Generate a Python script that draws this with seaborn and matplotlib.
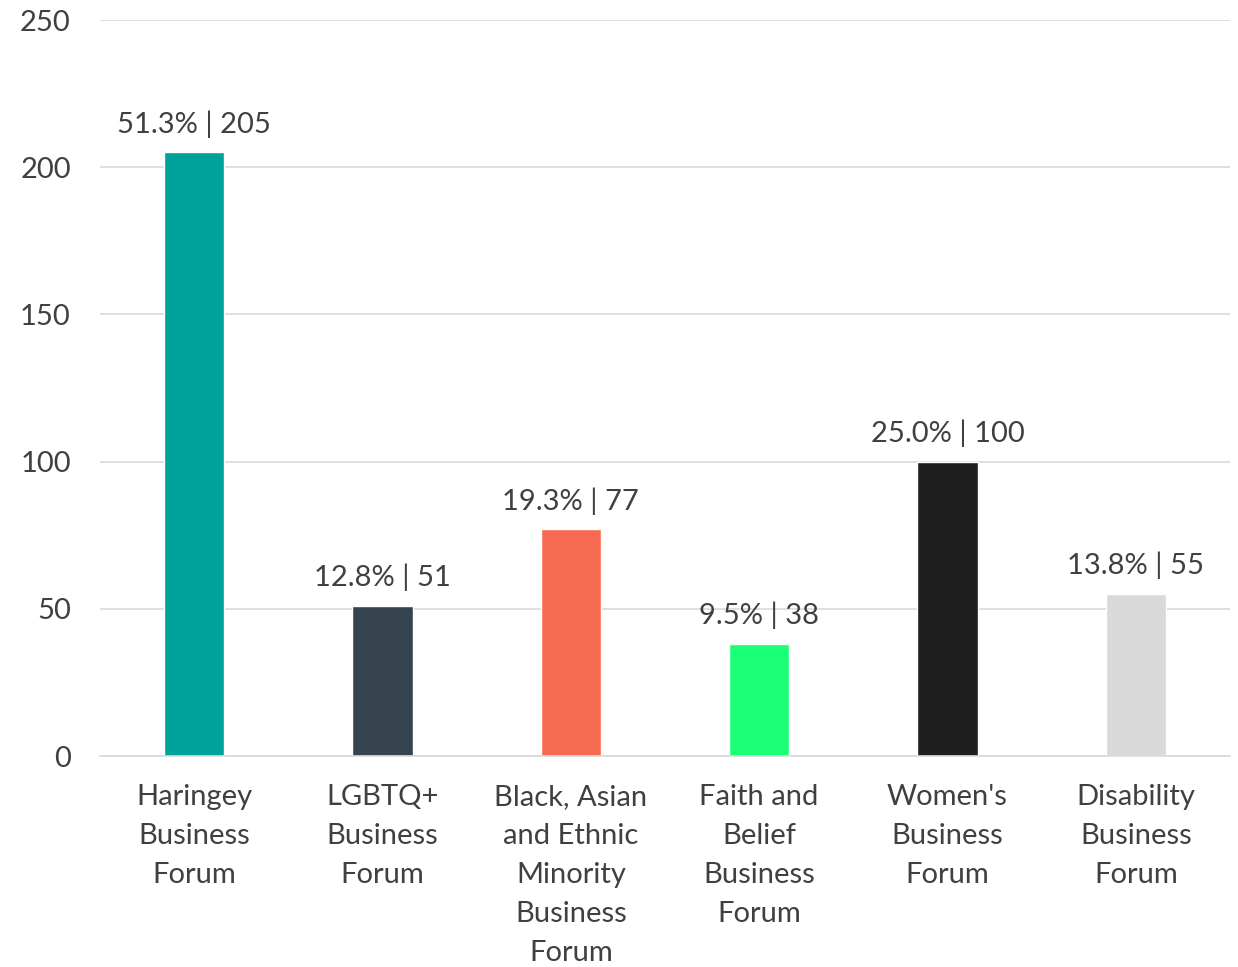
import matplotlib
matplotlib.use("Agg")
import matplotlib.pyplot as plt
import seaborn as sns
import pandas as pd

# Data
forums = ["Haringey\nBusiness\nForum", "LGBTQ+\nBusiness\nForum",
          "Black, Asian\nand Ethnic\nMinority\nBusiness\nForum",
          "Faith and\nBelief\nBusiness\nForum", "Women's\nBusiness\nForum",
          "Disability\nBusiness\nForum"]
counts = [205, 51, 77, 38, 100, 55]
shares = ["51.3%", "12.8%", "19.3%", "9.5%", "25.0%", "13.8%"]
colors = ["#00A19A", "#36444F", "#F76A52", "#19FF76", "#1E1E1E", "#D9D9D9"]
y_ticks = [0, 50, 100, 150, 200, 250]

df = pd.DataFrame({"forum": forums, "count": counts})

sns.set_style("white")
plt.rcParams["font.family"] = ["Lato", "DejaVu Sans"]
text_color = "#404040"

fig = plt.figure(figsize=(12.38, 9.67), dpi=100)
ax = fig.add_axes([0.0808, 0.2182, 0.9127, 0.7611])

sns.barplot(data=df, x="forum", y="count", hue="forum", palette=colors,
            legend=False, width=0.32, saturation=1, ax=ax)

for i, (c, s) in enumerate(zip(counts, shares)):
    ax.text(i, c + 5, f"{s} | {c}", ha="center", va="bottom",
            fontsize=21, color=text_color)

ax.set_ylim(0, 250)
ax.set_yticks(y_ticks)
ax.set_xlim(-0.5, len(forums) - 0.5)
ax.yaxis.grid(True, color="#D9D9D9", linewidth=1.2)
ax.set_axisbelow(True)
for side in ["top", "right", "left"]:
    ax.spines[side].set_visible(False)
ax.spines["bottom"].set_color("#D9D9D9")
ax.spines["bottom"].set_linewidth(1.2)
ax.tick_params(axis="both", length=0, labelsize=21, labelcolor=text_color)
ax.tick_params(axis="y", pad=21)
ax.tick_params(axis="x", pad=20)
for lbl in ax.get_xticklabels():
    lbl.set_linespacing(1.62)
ax.set_xlabel("")
ax.set_ylabel("")

fig.savefig("out.png", dpi=100)
